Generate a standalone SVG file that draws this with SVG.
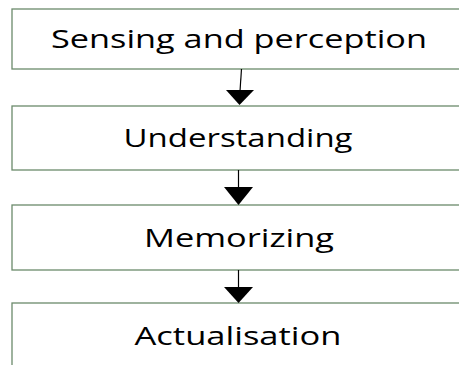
<svg xmlns="http://www.w3.org/2000/svg" width="459" height="365" viewBox="0 0 459 365">
<style>
.box{fill:#ffffff;stroke:#6b8a6b;stroke-width:1.3}
.lbl{font-family:"Open Sans","Liberation Sans",sans-serif;font-size:25px;fill:#000;text-anchor:middle}
.ln{stroke:#000;stroke-width:1.2;fill:none}
.hd{fill:#000}
</style>
<rect width="459" height="365" fill="#ffffff"/>
<g id="node1"><rect class="box" x="12" y="9" width="460" height="60"/><text class="lbl" x="239" y="48" textLength="376" lengthAdjust="spacingAndGlyphs">Sensing and perception</text></g>
<g id="node2"><rect class="box" x="12" y="106" width="460" height="64"/><text class="lbl" x="238" y="147" textLength="229" lengthAdjust="spacingAndGlyphs">Understanding</text></g>
<g id="node3"><rect class="box" x="12" y="205" width="460" height="65"/><text class="lbl" x="239" y="247" textLength="190" lengthAdjust="spacingAndGlyphs">Memorizing</text></g>
<g id="node4"><rect class="box" x="12" y="303" width="460" height="80"/><text class="lbl" x="238" y="345" textLength="207" lengthAdjust="spacingAndGlyphs">Actualisation</text></g>
<g id="connectors">
<path class="ln" d="M241.5 69 L240 91"/><polygon class="hd" points="226,90 254,90 239.5,105"/>
<path class="ln" d="M238.5 170 L238.5 188"/><polygon class="hd" points="224,187 253,187 238.5,205"/>
<path class="ln" d="M238.5 270 L238.5 288"/><polygon class="hd" points="224,287 253,287 238.5,303"/>
</g>
</svg>
